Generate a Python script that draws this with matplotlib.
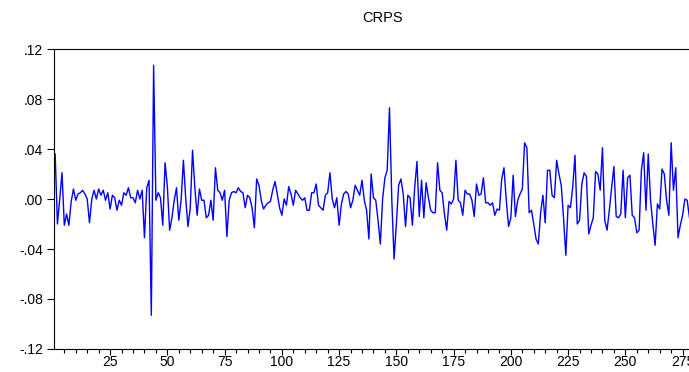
import numpy as np
import matplotlib
matplotlib.use("Agg")
import matplotlib.pyplot as plt
from matplotlib.ticker import FixedLocator, MultipleLocator

crps = [
    0.036, -0.020, 0.000, 0.021, -0.021, -0.012, -0.021, -0.002, 0.008, -0.001,
    0.004, 0.005, 0.007, 0.004, 0.000, -0.019, 0.000, 0.007, 0.000, 0.008,
    0.003, 0.007, -0.001, 0.005, -0.008,
    0.003, 0.001, -0.009, -0.001, -0.005, 0.005, 0.003, 0.009, 0.001, 0.001,
    -0.003, 0.007, 0.000, 0.007, -0.031, 0.009, 0.015, -0.093, 0.107, -0.001,
    0.005, 0.001, -0.021, 0.029, 0.010, -0.025,
    -0.015, -0.001, 0.009, -0.017, -0.001, 0.031, 0.001, -0.022, -0.007, 0.039,
    0.009, -0.013, 0.008, -0.001, -0.001, -0.015, -0.013, -0.001, -0.017, 0.025,
    0.007, 0.005, -0.001, 0.007, -0.030,
    -0.001, 0.005, 0.006, 0.005, 0.009, 0.006, 0.005, -0.007, 0.003, 0.001,
    -0.007, -0.023, 0.016, 0.011, -0.001, -0.008, -0.005, -0.003, -0.002, 0.007,
    0.014, 0.004, -0.007, -0.013, 0.000,
    -0.005, 0.010, 0.004, -0.005, 0.007, 0.004, 0.001, -0.001, 0.001, -0.009,
    -0.009, 0.005, 0.005, 0.012, -0.005, -0.007, -0.009, 0.003, 0.005, 0.021,
    0.000, -0.007, 0.001, -0.021, -0.004, 0.004,
    0.006, 0.004, -0.007, -0.001, 0.011, 0.007, 0.003, 0.015, -0.001, -0.009,
    -0.032, 0.020, 0.001, -0.001, -0.017, -0.036, 0.000, 0.017, 0.023, 0.073,
    0.000, -0.048, -0.020, 0.011, 0.016, 0.004,
    -0.022, 0.003, 0.001, -0.021, 0.009, 0.030, -0.014, 0.015, -0.015, 0.013,
    0.001, -0.009, -0.011, -0.011, 0.029, 0.007, 0.005, -0.012, -0.025, -0.002,
    -0.004, 0.000, 0.031, -0.001, -0.003,
    -0.013, 0.007, 0.004, 0.004, -0.001, -0.014, 0.012, 0.003, 0.004, 0.017,
    -0.003, -0.003, -0.005, -0.003, -0.013, -0.008, -0.009, 0.016, 0.025, -0.001,
    -0.022, -0.015, 0.019, -0.014, -0.001,
    0.004, 0.008, 0.045, 0.041, -0.011, -0.009, -0.020, -0.032, -0.036, -0.011,
    0.003, -0.019, 0.023, 0.023, 0.003, 0.001, 0.031, 0.020, 0.011, -0.015,
    -0.045, -0.005, -0.007, 0.009, 0.035,
    -0.020, -0.017, 0.012, 0.021, 0.018, -0.028, -0.021, -0.015, 0.022, 0.020,
    0.007, 0.041, -0.017, -0.025, -0.009, 0.009, 0.026, -0.014, -0.015, -0.012,
    0.023, -0.015, 0.017, 0.019, -0.013, -0.015,
    -0.027, -0.025, 0.023, 0.037, -0.009, 0.036, -0.001, -0.020, -0.037, -0.004,
    -0.008, 0.024, 0.020, -0.001, -0.013, 0.045, 0.007, 0.025, -0.031, -0.021,
    -0.013, 0.000, -0.001, -0.015,
]
obs = np.arange(1, len(crps) + 1)

y_ticks = [0.12, 0.08, 0.04, 0.00, -0.04, -0.08, -0.12]
y_tick_labels = [".12", ".08", ".04", ".00", "-.04", "-.08", "-.12"]
x_ticks = [25, 50, 75, 100, 125, 150, 175, 200, 225, 250, 275]

plt.rcParams['font.family'] = ['Liberation Sans', 'DejaVu Sans']

W, H = 689, 372
fig = plt.figure(figsize=(W / 100, H / 100), dpi=100)
ax = fig.add_axes([54 / W, 23 / H, (W - 54) / W, 300 / H])

ax.plot(obs, crps, color='#0000ff', linewidth=1.0)

ax.set_xlim(0.5, 0.5 + (W - 54) / 2.29)
ax.set_ylim(-0.12, 0.12)

ax.yaxis.set_major_locator(FixedLocator(y_ticks))
ax.set_yticklabels(y_tick_labels)
ax.xaxis.set_major_locator(FixedLocator(x_ticks))
ax.xaxis.set_minor_locator(MultipleLocator(5))

ax.tick_params(axis='y', direction='out', length=5, width=0.8, pad=3, labelsize=10)
ax.tick_params(axis='x', which='major', direction='out', length=4, width=0.8, pad=0, labelsize=10)
ax.tick_params(axis='x', which='minor', direction='out', length=3, width=0.8)

for s in ['left', 'bottom', 'top']:
    ax.spines[s].set_linewidth(0.8)
ax.spines['right'].set_visible(False)

fig.text(383 / W, 1 - 18 / H, 'CRPS', ha='center', va='center', fontsize=10.5)

fig.savefig('out.png', dpi=100)
